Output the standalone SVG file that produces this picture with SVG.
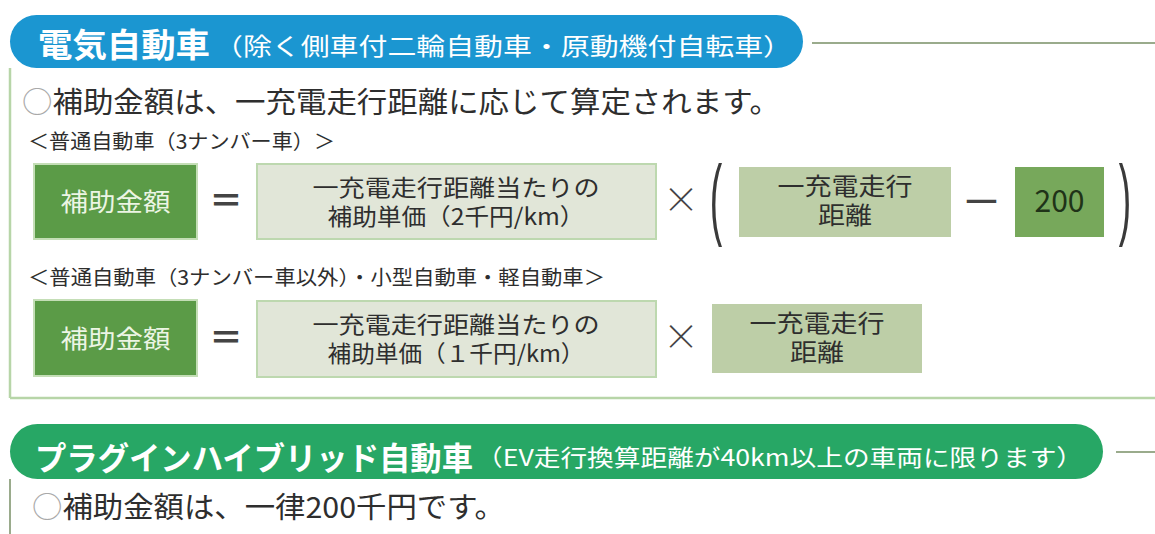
<svg xmlns="http://www.w3.org/2000/svg" width="1155" height="534" viewBox="0 0 1155 534">
<style>
.jp{font-family:'Noto Sans CJK JP','Noto Sans CJK SC',sans-serif}
.wh{fill:#ffffff}
.tx{fill:#2e2e2e}
.cir{fill:#a9a9a9}
.dk{fill:#5b9b47;stroke:#c4deb6;stroke-width:2}
.lt{fill:#e1e6d8;stroke:#bdd8af;stroke-width:2}
.md{fill:#bdcea7}
.gn{fill:#77a85b}
.bt{fill:#ecf5e4}
.op{fill:#444444}
.par{fill:#3a3a3a;font-family:'Liberation Sans',sans-serif;font-size:89px}
.rule{stroke:#b7d5a8;stroke-width:2.5;fill:none}
.grule{stroke:#9aab8c;stroke-width:2;fill:none}
</style>
<rect width="1155" height="534" fill="#ffffff"/>

<g id="rules">
  <line class="grule" x1="812" y1="43" x2="1155" y2="43"/>
  <line class="rule" x1="10" y1="68" x2="10" y2="398"/>
  <line class="rule" x1="10" y1="398" x2="1155" y2="398"/>
  <line class="grule" x1="1116" y1="452" x2="1155" y2="452"/>
  <line class="grule" x1="10" y1="479" x2="10" y2="534"/>
</g>

<g id="header-ev">
  <rect x="10" y="15" width="793" height="53" rx="26.5" fill="#1b96d1"/>
  <text class="jp wh" x="38" y="57" font-size="33" font-weight="bold" textLength="172" lengthAdjust="spacingAndGlyphs">電気自動車</text>
  <text class="jp wh" x="214" y="55" font-size="24" textLength="578" lengthAdjust="spacingAndGlyphs">（除く側車付二輪自動車・原動機付自転車）</text>
</g>

<g id="intro-ev">
  <text class="jp tx" x="22" y="113" font-size="29" textLength="758" lengthAdjust="spacingAndGlyphs"><tspan class="cir">○</tspan>補助金額は、一充電走行距離に応じて算定されます。</text>
</g>

<g id="label-row1">
  <text class="jp tx" x="28" y="149" font-size="20" textLength="307" lengthAdjust="spacingAndGlyphs">＜普通自動車（3ナンバー車）＞</text>
</g>

<g id="row1-amount">
  <rect class="dk" x="34" y="164" width="163" height="75"/>
  <text class="jp bt" x="115.5" y="211" font-size="25" text-anchor="middle" textLength="110" lengthAdjust="spacingAndGlyphs">補助金額</text>
</g>
<g id="row1-eq">
  <text class="jp op" x="226" y="213" font-size="34" font-weight="bold" text-anchor="middle" textLength="34" lengthAdjust="spacingAndGlyphs">＝</text>
</g>
<g id="row1-unit">
  <rect class="lt" x="257" y="164" width="399" height="75"/>
  <text class="jp tx" font-size="23" text-anchor="middle"><tspan x="456" y="196" textLength="287" lengthAdjust="spacingAndGlyphs">一充電走行距離当たりの</tspan><tspan x="456" y="225" textLength="257" lengthAdjust="spacingAndGlyphs">補助単価（2千円/km）</tspan></text>
</g>
<g id="row1-times">
  <text class="jp op" x="681" y="213" font-size="36" text-anchor="middle" font-weight="300">×</text>
</g>
<g id="row1-lparen">
  <text class="par" transform="translate(716,228) scale(0.42,1)" text-anchor="middle">(</text>
</g>
<g id="row1-distance">
  <rect class="md" x="739" y="167" width="212" height="70"/>
  <text class="jp tx" font-size="24" text-anchor="middle"><tspan x="845" y="195" textLength="135" lengthAdjust="spacingAndGlyphs">一充電走行</tspan><tspan x="845" y="224" textLength="54" lengthAdjust="spacingAndGlyphs">距離</tspan></text>
</g>
<g id="row1-minus">
  <text class="jp op" x="981.5" y="211" font-size="34" font-weight="bold" text-anchor="middle" textLength="33" lengthAdjust="spacingAndGlyphs">—</text>
</g>
<g id="row1-200">
  <rect class="gn" x="1015" y="167" width="89" height="70"/>
  <text class="jp" x="1059.5" y="212" font-size="31" text-anchor="middle" fill="#1f3318" textLength="50" lengthAdjust="spacingAndGlyphs">200</text>
</g>
<g id="row1-rparen">
  <text class="par" transform="translate(1125,228) scale(0.42,1)" text-anchor="middle">)</text>
</g>

<g id="label-row2">
  <text class="jp tx" x="28" y="285" font-size="20" textLength="577" lengthAdjust="spacingAndGlyphs">＜普通自動車（3ナンバー車以外）・小型自動車・軽自動車＞</text>
</g>

<g id="row2-amount">
  <rect class="dk" x="34" y="300" width="163" height="76"/>
  <text class="jp bt" x="115.5" y="348" font-size="25" text-anchor="middle" textLength="110" lengthAdjust="spacingAndGlyphs">補助金額</text>
</g>
<g id="row2-eq">
  <text class="jp op" x="226" y="350" font-size="34" font-weight="bold" text-anchor="middle" textLength="34" lengthAdjust="spacingAndGlyphs">＝</text>
</g>
<g id="row2-unit">
  <rect class="lt" x="257" y="301" width="399" height="76"/>
  <text class="jp tx" font-size="23" text-anchor="middle"><tspan x="456" y="333" textLength="287" lengthAdjust="spacingAndGlyphs">一充電走行距離当たりの</tspan><tspan x="456" y="362" textLength="257" lengthAdjust="spacingAndGlyphs">補助単価（１千円/km）</tspan></text>
</g>
<g id="row2-times">
  <text class="jp op" x="681" y="350" font-size="36" text-anchor="middle" font-weight="300">×</text>
</g>
<g id="row2-distance">
  <rect class="md" x="712" y="304" width="210" height="69"/>
  <text class="jp tx" font-size="24" text-anchor="middle"><tspan x="817" y="332" textLength="135" lengthAdjust="spacingAndGlyphs">一充電走行</tspan><tspan x="817" y="361" textLength="54" lengthAdjust="spacingAndGlyphs">距離</tspan></text>
</g>

<g id="header-phev">
  <rect x="10" y="424" width="1093" height="55" rx="27.5" fill="#27a765"/>
  <text class="jp wh" x="35" y="470" font-size="32" font-weight="bold" textLength="438" lengthAdjust="spacingAndGlyphs">プラグインハイブリッド自動車</text>
  <text class="jp wh" x="476" y="466" font-size="23" textLength="607" lengthAdjust="spacingAndGlyphs">（EV走行換算距離が40km以上の車両に限ります）</text>
</g>

<g id="intro-phev">
  <text class="jp tx" x="32" y="518" font-size="29" textLength="473" lengthAdjust="spacingAndGlyphs"><tspan class="cir">○</tspan>補助金額は、一律200千円です。</text>
</g>
</svg>
